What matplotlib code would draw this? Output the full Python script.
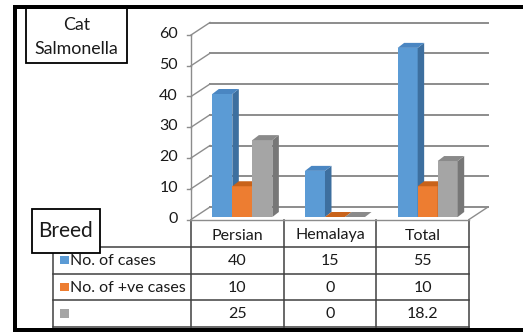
import matplotlib
matplotlib.use("Agg")
import matplotlib.pyplot as plt
from matplotlib.patches import Polygon, Rectangle
from matplotlib.lines import Line2D

# ---- data ----
breeds = ["Persian", "Hemalaya", "Total"]
series_names = ["No. of cases", "No. of +ve cases", ""]
n_cases = [40, 15, 55]
n_positive = [10, 0, 10]
n_third = [25, 0, 18.2]
table_text = [["40", "15", "55"], ["10", "0", "10"], ["25", "0", "18.2"]]
y_ticks = [0, 10, 20, 30, 40, 50, 60]

series = [n_cases, n_positive, n_third]
face_colors = ["#5b9bd5", "#ed7d31", "#a5a5a5"]
side_colors = ["#3d6f9f", "#b05b20", "#777777"]
top_colors = ["#4a86c2", "#c8621a", "#8a8a8a"]

W, H = 523, 332
FONT = "Lato"
plt.rcParams["font.family"] = [FONT, "DejaVu Sans"]

fig = plt.figure(figsize=(W / 100, H / 100), dpi=100)
fig.patch.set_facecolor("white")

# overlay in pixel units for frame, boxes and the data table
ov = fig.add_axes([0, 0, 1, 1], zorder=0)
ov.set_xlim(0, W)
ov.set_ylim(H, 0)
ov.axis("off")

# chart axes: the plane in which the bars stand
bx0, bx1 = 196, 474
by0, ppu = 217, 3.075
ax = fig.add_axes([bx0 / W, (H - by0) / H, (bx1 - bx0) / W, 60 * ppu / H], zorder=1)
ax.set_xlim(-0.5, 2.5)
ax.set_ylim(0, 60)
ax.axis("off")
ax.patch.set_alpha(0)

px_x = (bx1 - bx0) / 3.0   # pixels per category unit
px_y = ppu                 # pixels per value unit


def off(dx_px, dy_px):
    # pixel offset (right, up) converted to data units
    return dx_px / px_x, dy_px / px_y


fdx, fdy = off(-5, -2.5)    # front plane
kdx, kdy = off(14, 10)      # back wall
ddx, ddy = off(6.5, 5)      # bar depth

grid_c = "#8c8c8c"
text_c = "#1a1a1a"
for v in y_ticks:
    # back wall gridline
    ax.add_line(Line2D([-0.5 + kdx, 2.5 + kdx], [v + kdy, v + kdy], color=grid_c,
                       lw=1.4, clip_on=False, zorder=1))
    # side wall diagonal from the axis to the back wall
    ax.add_line(Line2D([-0.5 + fdx, -0.5 + kdx], [v + fdy, v + kdy], color=grid_c,
                       lw=1.0, clip_on=False, zorder=1))
    # tick mark and label
    ax.add_line(Line2D([-0.5 + fdx - 4 / px_x, -0.5 + fdx], [v + fdy, v + fdy],
                       color=grid_c, lw=1.0, clip_on=False, zorder=1))
    ax.text(-0.5 + fdx - 13 / px_x, v + fdy + 0.3, str(v), ha="right", va="center",
            fontsize=11.5, color=text_c, clip_on=False)

# front axis line and floor edges
ax.add_line(Line2D([-0.5 + fdx, -0.5 + fdx], [0 + fdy, 60 + fdy], color=grid_c,
                   lw=1.0, clip_on=False, zorder=1))
ax.add_line(Line2D([-0.5 + fdx, 2.5 + fdx], [fdy, fdy], color=grid_c, lw=1.0,
                   clip_on=False, zorder=1))
ax.add_line(Line2D([2.5 + fdx, 2.5 + kdx], [fdy, kdy], color=grid_c, lw=1.0,
                   clip_on=False, zorder=1))

# 3-D columns
bw = 0.216
offsets = [-bw, 0.0, bw]
for ci in range(len(breeds)):
    for si, vals in enumerate(series):
        xc = ci + offsets[si]
        v = vals[ci]
        x0, x1 = xc - bw / 2, xc + bw / 2
        z = 3 + ci * 3 + si
        ax.bar(xc, v, width=bw, color=face_colors[si], edgecolor="none",
               zorder=z, clip_on=False)
        ax.add_patch(Polygon([(x1, 0), (x1 + ddx, ddy), (x1 + ddx, v + ddy), (x1, v)],
                             closed=True, facecolor=side_colors[si], edgecolor="none",
                             zorder=z, clip_on=False))
        ax.add_patch(Polygon([(x0, v), (x1, v), (x1 + ddx, v + ddy), (x0 + ddx, v + ddy)],
                             closed=True, facecolor=top_colors[si], edgecolor="none",
                             zorder=z, clip_on=False))

# ---- data table ----
line_c = "#404040"
col_x = [bx0 - 5 + px_x * i for i in range(4)]
tab_left = 53
head_top, row_top = 220, 247
row_h = 26.7
rows_y = [row_top + row_h * i for i in range(4)]

for i, xx in enumerate(col_x):
    ov.add_line(Line2D([xx, xx], [head_top, rows_y[-1]], color=line_c, lw=1.1))
ov.add_line(Line2D([tab_left, tab_left], [row_top, rows_y[-1]], color=line_c, lw=1.1))
for yy in rows_y:
    ov.add_line(Line2D([tab_left, col_x[-1]], [yy, yy], color=line_c, lw=1.1))

for i, name in enumerate(breeds):
    ov.text((col_x[i] + col_x[i + 1]) / 2, (head_top + row_top) / 2 + 2, name,
            ha="center", va="center", fontsize=11.5, color=text_c)

for r in range(3):
    yc = (rows_y[r] + rows_y[r + 1]) / 2
    ov.add_patch(Rectangle((60, yc - 4.5), 8.5, 8.5, facecolor=face_colors[r],
                           edgecolor="none"))
    ov.text(70, yc + 0.5, series_names[r], ha="left", va="center", fontsize=11.5,
            color=text_c)
    for c in range(3):
        ov.text((col_x[c] + col_x[c + 1]) / 2, yc + 0.5, table_text[r][c],
                ha="center", va="center", fontsize=11.5, color=text_c)

# ---- label boxes ----
ov.add_patch(Rectangle((26, 8), 101, 55, facecolor="white", edgecolor="black",
                       lw=1.3, zorder=5))
ov.text(76.5, 25, "Cat", ha="center", va="center", fontsize=12.8, zorder=6,
        color=text_c)
ov.text(76.5, 49, "Salmonella", ha="center", va="center", fontsize=12.8, zorder=6,
        color=text_c)

ov.add_patch(Rectangle((32, 209), 68, 44, facecolor="white", edgecolor="black",
                       lw=1.3, zorder=5))
ov.text(66, 231, "Breed", ha="center", va="center", fontsize=15, zorder=6,
        color=text_c)

# ---- outer frame ----
ov.add_patch(Rectangle((13, 5), 4, H - 5, facecolor="black", edgecolor="none", zorder=7))
ov.add_patch(Rectangle((13, 5), W - 13, 4, facecolor="black", edgecolor="none", zorder=7))
ov.add_patch(Rectangle((13, 328), W - 13, 4, facecolor="black", edgecolor="none", zorder=7))

fig.savefig("out.png", dpi=100)
